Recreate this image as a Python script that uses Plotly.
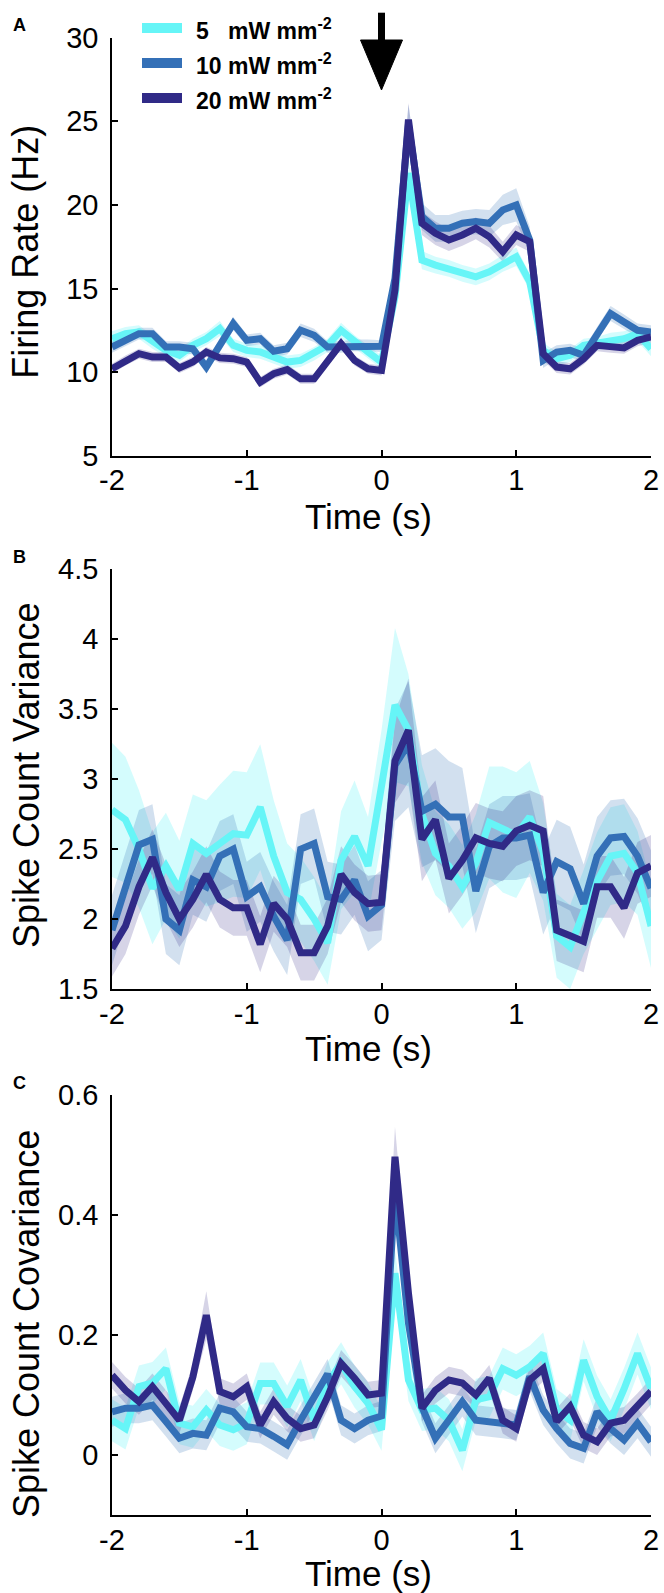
import plotly.graph_objects as go

# ---------------- data ----------------
time_s = [-2.0, -1.9, -1.8, -1.7, -1.6, -1.5, -1.4, -1.3, -1.2, -1.1, -1.0,
          -0.9, -0.8, -0.7, -0.6, -0.5, -0.4, -0.3, -0.2, -0.1, 0.0,
          0.1, 0.2, 0.3, 0.4, 0.5, 0.6, 0.7, 0.8, 0.9, 1.0,
          1.1, 1.2, 1.3, 1.4, 1.5, 1.6, 1.7, 1.8, 1.9, 2.0]

series_names = ["5\u00a0\u00a0\u00a0mW mm<sup>-2</sup>", "10 mW mm<sup>-2</sup>", "20 mW mm<sup>-2</sup>"]

# Panel A: firing rate (Hz)
rate_5 = [12.0, 12.3, 12.4, 11.8, 11.3, 11.0, 11.6, 12.0, 12.6, 11.6, 11.3,
          11.2, 10.9, 10.6, 10.7, 11.1, 11.6, 12.5, 11.8, 11.2, 10.6,
          14.5, 21.9, 16.7, 16.4, 16.2, 15.9, 15.7, 16.0, 16.5, 16.9,
          15.4, 11.3, 10.8, 11.0, 11.6, 11.7, 11.9, 12.0, 12.3, 11.4]
rate_10 = [11.5, 11.9, 12.3, 12.3, 11.5, 11.5, 11.4, 10.3, 11.6, 12.9, 11.9,
           12.0, 11.25, 11.4, 12.5, 12.2, 11.5, 11.5, 11.6, 11.6, 11.55,
           15.6, 24.8, 19.3, 18.6, 18.6, 18.9, 19.0, 18.9, 19.7, 20.0,
           17.9, 10.7, 11.2, 11.3, 11.0, 12.3, 13.5, 13.0, 12.5, 12.4]
rate_20 = [10.2, 10.7, 11.1, 10.9, 10.9, 10.25, 10.6, 11.2, 10.85, 10.8, 10.6,
           9.4, 9.9, 10.15, 9.6, 9.6, 10.7, 11.7, 10.7, 10.2, 10.1,
           14.9, 25.1, 18.9, 18.3, 17.9, 18.2, 18.6, 18.1, 17.2, 18.2,
           17.8, 11.1, 10.3, 10.2, 10.8, 11.6, 11.5, 11.45, 11.9, 12.1]
rate_5_sem = [0.45, 0.4, 0.4, 0.4, 0.4, 0.4, 0.4, 0.4, 0.45, 0.4, 0.4,
              0.4, 0.4, 0.4, 0.4, 0.4, 0.4, 0.45, 0.4, 0.4, 0.4,
              0.6, 0.9, 0.55, 0.5, 0.5, 0.5, 0.5, 0.5, 0.5, 0.55,
              0.5, 0.45, 0.4, 0.4, 0.4, 0.4, 0.45, 0.45, 0.45, 0.45]
rate_10_sem = [0.35, 0.35, 0.35, 0.35, 0.35, 0.35, 0.35, 0.4, 0.4, 0.4, 0.35,
               0.35, 0.35, 0.35, 0.4, 0.4, 0.35, 0.35, 0.35, 0.35, 0.35,
               0.6, 1.2, 0.8, 0.8, 0.8, 0.75, 0.75, 0.8, 0.9, 1.0,
               0.8, 0.45, 0.4, 0.4, 0.4, 0.4, 0.45, 0.45, 0.4, 0.4]
rate_20_sem = [0.3, 0.3, 0.3, 0.3, 0.3, 0.3, 0.3, 0.3, 0.3, 0.3, 0.3,
               0.3, 0.3, 0.3, 0.3, 0.3, 0.3, 0.35, 0.3, 0.3, 0.3,
               0.5, 1.0, 0.7, 0.7, 0.65, 0.65, 0.65, 0.65, 0.6, 0.6,
               0.6, 0.4, 0.35, 0.35, 0.35, 0.35, 0.35, 0.35, 0.35, 0.35]

# Panel B: spike count variance
var_5 = [2.78, 2.71, 2.50, 2.22, 2.38, 2.21, 2.54, 2.47, 2.54, 2.61, 2.60,
         2.80, 2.45, 2.19, 2.14, 2.00, 1.83, 2.42, 2.59, 2.38, 2.95,
         3.53, 3.35, 2.75, 2.47, 2.38, 2.23, 2.40, 2.69, 2.64, 2.60,
         2.73, 2.48, 1.88, 1.80, 2.05, 2.27, 2.45, 2.47, 2.33, 1.95]
var_10 = [1.92, 2.23, 2.53, 2.57, 2.00, 1.92, 2.28, 2.23, 2.45, 2.50, 2.16,
          2.23, 2.02, 1.85, 2.50, 2.54, 2.16, 2.14, 2.28, 2.02, 2.10,
          3.10, 3.25, 2.77, 2.82, 2.73, 2.73, 2.20, 2.52, 2.58, 2.58,
          2.60, 2.19, 2.41, 2.36, 2.11, 2.45, 2.58, 2.59, 2.45, 2.22]
var_20 = [1.79, 1.95, 2.23, 2.44, 2.19, 2.00, 2.14, 2.32, 2.14, 2.08, 2.08,
          1.82, 2.11, 2.00, 1.76, 1.76, 1.95, 2.32, 2.19, 2.11, 2.12,
          3.13, 3.35, 2.57, 2.71, 2.29, 2.42, 2.58, 2.54, 2.52, 2.63,
          2.67, 2.63, 1.92, 1.88, 1.84, 2.23, 2.23, 2.08, 2.33, 2.38]
var_5_sem = [0.48, 0.45, 0.42, 0.40, 0.38, 0.35, 0.35, 0.38, 0.42, 0.45, 0.45,
             0.45, 0.40, 0.35, 0.30, 0.30, 0.30, 0.35, 0.40, 0.35, 0.40,
             0.55, 0.40, 0.35, 0.30, 0.30, 0.30, 0.35, 0.40, 0.45, 0.45,
             0.40, 0.35, 0.30, 0.30, 0.30, 0.35, 0.35, 0.35, 0.30, 0.30]
var_10_sem = [0.25, 0.25, 0.25, 0.25, 0.25, 0.25, 0.25, 0.25, 0.25, 0.25, 0.25,
              0.25, 0.25, 0.25, 0.25, 0.25, 0.25, 0.25, 0.25, 0.25, 0.25,
              0.40, 0.45, 0.40, 0.40, 0.40, 0.35, 0.30, 0.30, 0.30, 0.30,
              0.30, 0.30, 0.30, 0.30, 0.28, 0.28, 0.27, 0.27, 0.27, 0.27]
var_20_sem = [0.20, 0.20, 0.20, 0.20, 0.20, 0.20, 0.20, 0.20, 0.20, 0.20, 0.20,
              0.20, 0.20, 0.20, 0.20, 0.20, 0.20, 0.20, 0.20, 0.20, 0.20,
              0.30, 0.37, 0.30, 0.28, 0.25, 0.25, 0.25, 0.25, 0.25, 0.25,
              0.25, 0.25, 0.22, 0.22, 0.22, 0.22, 0.22, 0.22, 0.22, 0.22]

# Panel C: spike count covariance
cov_5 = [0.058, 0.044, 0.114, 0.120, 0.144, 0.053, 0.047, 0.075, 0.050, 0.042, 0.053,
         0.119, 0.119, 0.081, 0.125, 0.058, 0.120, 0.153, 0.114, 0.086, 0.042,
         0.303, 0.125, 0.075, 0.078, 0.058, 0.008, 0.092, 0.097, 0.144, 0.133,
         0.147, 0.169, 0.075, 0.058, 0.158, 0.097, 0.058, 0.110, 0.169, 0.111]
cov_10 = [0.072, 0.078, 0.078, 0.083, 0.056, 0.028, 0.036, 0.033, 0.078, 0.072, 0.047,
          0.044, 0.031, 0.017, 0.058, 0.097, 0.135, 0.058, 0.044, 0.058, 0.065,
          0.440, 0.220, 0.080, 0.028, 0.058, 0.089, 0.058, 0.056, 0.053, 0.050,
          0.131, 0.075, 0.044, 0.019, 0.011, 0.072, 0.044, 0.025, 0.053, 0.022]
cov_20 = [0.133, 0.108, 0.089, 0.114, 0.086, 0.058, 0.130, 0.233, 0.106, 0.097, 0.114,
          0.050, 0.089, 0.061, 0.044, 0.050, 0.097, 0.153, 0.128, 0.100, 0.103,
          0.497, 0.270, 0.078, 0.108, 0.125, 0.120, 0.100, 0.128, 0.058, 0.044,
          0.125, 0.144, 0.056, 0.081, 0.033, 0.022, 0.053, 0.058, 0.081, 0.106]
cov_5_sem = [0.035, 0.035, 0.035, 0.035, 0.035, 0.035, 0.035, 0.035, 0.035, 0.035, 0.035,
             0.035, 0.035, 0.035, 0.035, 0.035, 0.035, 0.035, 0.035, 0.035, 0.035,
             0.040, 0.035, 0.035, 0.035, 0.035, 0.035, 0.035, 0.035, 0.035, 0.035,
             0.035, 0.035, 0.035, 0.035, 0.035, 0.035, 0.035, 0.035, 0.035, 0.035]
cov_10_sem = [0.025, 0.025, 0.025, 0.025, 0.025, 0.025, 0.025, 0.025, 0.025, 0.025, 0.025,
              0.025, 0.025, 0.025, 0.025, 0.025, 0.025, 0.025, 0.025, 0.025, 0.025,
              0.040, 0.030, 0.025, 0.025, 0.025, 0.025, 0.025, 0.025, 0.025, 0.025,
              0.025, 0.025, 0.025, 0.025, 0.025, 0.025, 0.025, 0.025, 0.025, 0.025]
cov_20_sem = [0.022, 0.022, 0.022, 0.022, 0.022, 0.022, 0.022, 0.040, 0.022, 0.022, 0.022,
              0.022, 0.022, 0.022, 0.022, 0.022, 0.022, 0.022, 0.022, 0.022, 0.022,
              0.050, 0.030, 0.022, 0.022, 0.022, 0.022, 0.022, 0.022, 0.022, 0.022,
              0.022, 0.022, 0.022, 0.022, 0.022, 0.022, 0.022, 0.022, 0.022, 0.022]

x_ticks = [-2, -1, 0, 1, 2]
x_tick_text = ["-2", "-1", "0", "1", "2"]
a_ticks = [5, 10, 15, 20, 25, 30]
b_ticks = [1.5, 2, 2.5, 3, 3.5, 4, 4.5]
b_tick_text = ["1.5", "2", "2.5", "3", "3.5", "4", "4.5"]
c_ticks = [0, 0.2, 0.4, 0.6]
c_tick_text = ["0", "0.2", "0.4", "0.6"]

# ---------------- style ----------------
W, H = 664, 1593
ML, MR = 112, 13
line_colors = ["rgb(102,245,247)", "rgb(52,112,183)", "rgb(48,42,135)"]
band_colors = ["rgba(102,245,247,0.28)", "rgba(52,112,183,0.22)", "rgba(48,42,135,0.20)"]
FONT = "Liberation Sans, Arial, Helvetica, sans-serif"
TICK_SIZE = 29
TITLE_SIZE = 36
XTITLE_SIZE = 35


def py(p):  # pixel from top -> paper y
    return 1 - p / H


def px(p):  # pixel from left -> paper x
    return (p - ML) / (W - ML - MR)


fig = go.Figure()

panels = [
    ("x", "y", [rate_5, rate_10, rate_20], [rate_5_sem, rate_10_sem, rate_20_sem]),
    ("x2", "y2", [var_5, var_10, var_20], [var_5_sem, var_10_sem, var_20_sem]),
    ("x3", "y3", [cov_5, cov_10, cov_20], [cov_5_sem, cov_10_sem, cov_20_sem]),
]

for xa, ya, means, sems in panels:
    for i, (m, s) in enumerate(zip(means, sems)):
        upper = [a + b for a, b in zip(m, s)]
        lower = [a - b for a, b in zip(m, s)]
        fig.add_trace(go.Scatter(
            x=time_s + time_s[::-1], y=upper + lower[::-1],
            fill="toself", fillcolor=band_colors[i], line=dict(width=0),
            mode="lines", hoverinfo="skip", showlegend=False,
            xaxis=xa, yaxis=ya))
    for i, m in enumerate(means):
        fig.add_trace(go.Scatter(
            x=time_s, y=m, mode="lines", name=series_names[i],
            line=dict(color=line_colors[i], width=7),
            showlegend=False, xaxis=xa, yaxis=ya))

axis_common = dict(
    showline=True, linecolor="black", linewidth=1.5, mirror=False,
    ticks="inside", ticklen=6, tickwidth=1.5, tickcolor="black",
    showgrid=False, zeroline=False,
    tickfont=dict(family=FONT, size=TICK_SIZE, color="black"),
)

domains = {
    "A": [py(455.7), py(37.7)],
    "B": [py(989), py(569.3)],
    "C": [py(1515), py(1095)],
}

layout = dict(
    width=W, height=H,
    margin=dict(l=ML, r=MR, t=0, b=0, autoexpand=False),
    paper_bgcolor="white", plot_bgcolor="white",
    showlegend=False,
    font=dict(family=FONT, color="black"),
)
for n, (key, yt, ytt, yr) in enumerate([
        ("A", a_ticks, [str(v) for v in a_ticks], [5, 30]),
        ("B", b_ticks, b_tick_text, [1.5, 4.5]),
        ("C", c_ticks, c_tick_text, [-0.1, 0.6])]):
    sfx = "" if n == 0 else str(n + 1)
    layout["xaxis" + sfx] = dict(
        axis_common, range=[-2, 2], tickvals=x_ticks, ticktext=x_tick_text,
        anchor="y" + sfx, domain=[0, 1], ticklabelstandoff=-2)
    layout["yaxis" + sfx] = dict(
        axis_common, range=yr, tickvals=yt, ticktext=ytt,
        anchor="x" + sfx, domain=domains[key], ticklabelstandoff=6)
fig.update_layout(**layout)

annotations = []
# x-axis titles
for cy in [516.5, 1048, 1573]:
    annotations.append(dict(
        text="Time (s)", xref="paper", yref="paper", x=px(368), y=py(cy),
        xanchor="center", yanchor="middle", showarrow=False,
        font=dict(family=FONT, size=XTITLE_SIZE, color="black")))
# y-axis titles
for txt, cy in [("Firing Rate (Hz)", 251.7), ("Spike Count Variance", 775),
                ("Spike Count Covariance", 1324)]:
    annotations.append(dict(
        text=txt, xref="paper", yref="paper", x=px(26), y=py(cy),
        xanchor="center", yanchor="middle", textangle=-90, showarrow=False,
        font=dict(family=FONT, size=TITLE_SIZE, color="black")))
# panel letters
for txt, cy in [("A", 25), ("B", 557), ("C", 1083)]:
    annotations.append(dict(
        text="<b>%s</b>" % txt, xref="paper", yref="paper", x=px(19), y=py(cy),
        xanchor="center", yanchor="middle", showarrow=False,
        font=dict(family=FONT, size=18, color="black")))

# legend (panel A)
shapes = []
legend_rows = [28, 63, 98]
for i, (name, row) in enumerate(zip(series_names, legend_rows)):
    shapes.append(dict(
        type="line", xref="paper", yref="paper",
        x0=px(142), x1=px(182), y0=py(row), y1=py(row),
        line=dict(color=line_colors[i], width=10)))
    annotations.append(dict(
        text="<b>%s</b>" % name, xref="paper", yref="paper",
        x=px(194), y=py(row + 1), xanchor="left", yanchor="middle",
        showarrow=False, font=dict(family=FONT, size=23, color="black")))

# stimulus arrow at t = 0
half_w = 21 / ((W - ML - MR) / 4)
shapes.append(dict(type="line", xref="x", yref="paper", x0=0, x1=0,
                   y0=py(12.7), y1=py(44), line=dict(color="black", width=7)))
shapes.append(dict(type="path", xref="x", yref="paper",
                   path="M %f,%f L %f,%f L %f,%f Z" % (-half_w, py(40), half_w, py(40), 0, py(90)),
                   fillcolor="black", line=dict(color="black", width=1)))

fig.update_layout(annotations=annotations, shapes=shapes)
fig.write_html(
    "out.html",
    config={"displayModeBar": False},
    post_script="document.body.style.margin='0';"
                "document.body.style.overflow='hidden';"
                "document.documentElement.style.overflow='hidden';")
